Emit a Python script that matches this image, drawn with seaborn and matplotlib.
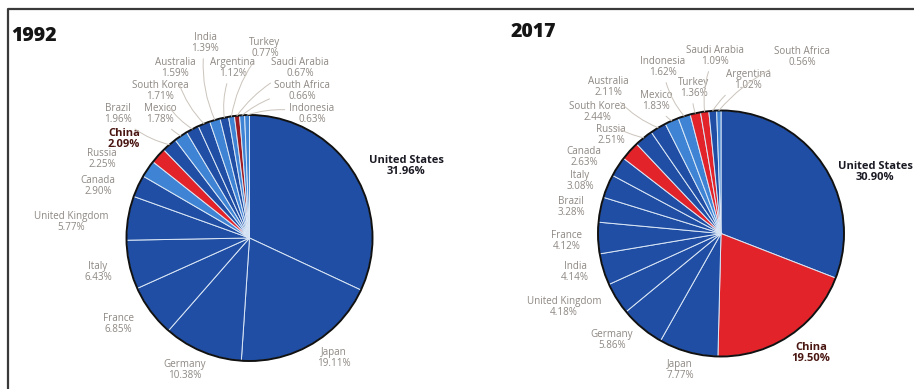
import matplotlib
matplotlib.use("Agg")
import matplotlib.pyplot as plt
import seaborn as sns
import numpy as np
from matplotlib.patches import Circle
from matplotlib.lines import Line2D

# ---------------- data ----------------
countries_1992 = ["United States", "Japan", "Germany", "France", "Italy", "United Kingdom",
                  "Canada", "Russia", "China", "Brazil", "Mexico", "South Korea", "Australia",
                  "India", "Argentina", "Turkey", "Saudi Arabia", "South Africa", "Indonesia"]
share_1992 = [31.96, 19.11, 10.38, 6.85, 6.43, 5.77, 2.90, 2.25, 2.09, 1.96, 1.78, 1.71,
              1.59, 1.39, 1.12, 0.77, 0.67, 0.66, 0.63]

countries_2017 = ["United States", "China", "Japan", "Germany", "United Kingdom", "India",
                  "France", "Brazil", "Italy", "Canada", "Russia", "South Korea", "Australia",
                  "Mexico", "Indonesia", "Turkey", "Saudi Arabia", "Argentina", "South Africa"]
share_2017 = [30.90, 19.50, 7.77, 5.86, 4.18, 4.14, 4.12, 3.28, 3.08, 2.63, 2.51, 2.44,
              2.11, 1.83, 1.62, 1.36, 1.09, 1.02, 0.56]

years = ["1992", "2017"]

# ---------------- style ----------------
sns.set_theme(style="white")
plt.rcParams["font.family"] = ["Open Sans", "DejaVu Sans"]

W, H = 914, 389
DARK = "#1f4ea4"
LIGHT = "#3f84d4"
RED = "#e3232a"
DRED = "#9e1a20"

kind_1992 = {"Russia": LIGHT, "China": RED, "Mexico": LIGHT, "India": LIGHT, "Turkey": LIGHT,
             "Saudi Arabia": DRED, "South Africa": LIGHT, "Indonesia": LIGHT}
kind_2017 = {"China": RED, "Russia": RED, "Mexico": LIGHT, "Indonesia": LIGHT,
             "Turkey": RED, "Saudi Arabia": RED, "South Africa": LIGHT}

# label centre positions in pixels (x, y from top)
pos_1992 = {"United States": (406, 166), "Japan": (334, 358), "Germany": (185, 370),
            "France": (118, 324), "Italy": (98, 272), "United Kingdom": (71, 222),
            "Canada": (98, 186), "Russia": (102, 159), "China": (124, 139),
            "Brazil": (118, 114), "Mexico": (160, 114), "South Korea": (160, 91),
            "Australia": (175, 68), "India": (205, 43), "Argentina": (233, 68),
            "Turkey": (265, 48), "Saudi Arabia": (300, 68), "South Africa": (302, 91),
            "Indonesia": (312, 114)}
pos_2017 = {"United States": (875, 172), "China": (811, 353), "Japan": (680, 370),
            "Germany": (612, 340), "United Kingdom": (564, 307), "India": (575, 272),
            "France": (567, 241), "Brazil": (571, 207), "Italy": (580, 181),
            "Canada": (584, 157), "Russia": (611, 135), "South Korea": (597, 112),
            "Australia": (608, 87), "Mexico": (656, 101), "Indonesia": (663, 67),
            "Turkey": (694, 88), "Saudi Arabia": (715, 56), "Argentina": (748, 80),
            "South Africa": (802, 57)}
lead_1992 = ["Brazil", "Mexico", "South Korea", "Australia", "India", "Argentina",
             "Turkey", "Saudi Arabia", "South Africa", "Indonesia"]
lead_2017 = ["South Korea", "Australia", "Mexico", "Indonesia", "Turkey", "Saudi Arabia",
             "Argentina", "South Africa"]

centers = {"1992": (249.5, 238), "2017": (721, 233.5)}
R = 123
title_pos = {"1992": (11, 36), "2017": (511, 32)}

fig = plt.figure(figsize=(W / 100, H / 100), dpi=100)
fig.patch.set_facecolor("white")
ax = fig.add_axes([0, 0, 1, 1])


def draw(year, names, values, kinds, positions, leads, bold_red):
    cx, cy = centers[year]
    cy = H - cy
    colors = [kinds.get(n, DARK) for n in names]
    wedges, _ = ax.pie(values, colors=colors, startangle=90, counterclock=False,
                       center=(cx, cy), radius=R, frame=True,
                       wedgeprops=dict(edgecolor="#dbe7f6", linewidth=0.7))
    ax.add_patch(Circle((cx, cy), R, fill=False, edgecolor="#111111", linewidth=1.4, zorder=5))
    for n, v, w in zip(names, values, wedges):
        px, py = positions[n]
        txt = f"{n}\n{v:.2f}%"
        if n == "United States" or n == bold_red:
            col = "#1a1a24" if n == "United States" else "#4a1612"
            ax.text(px, H - py, txt, ha="center", va="center", fontsize=8.0,
                    fontweight="bold", color=col, linespacing=1.0, zorder=6)
            continue
        if n in leads:
            ang = np.deg2rad((w.theta1 + w.theta2) / 2)
            xy = (cx + R * np.cos(ang), cy + R * np.sin(ang))
            ax.annotate(txt, xy=xy, xytext=(px, H - py), ha="center", va="center",
                        fontsize=7.1, color="#8e8883", linespacing=1.0,
                        arrowprops=dict(arrowstyle="-", color="#cbc4bc", lw=0.7,
                                        shrinkA=1, shrinkB=0,
                                        connectionstyle="arc3,rad=0.15"), zorder=6)
        else:
            ax.text(px, H - py, txt, ha="center", va="center", fontsize=7.1,
                    color="#8e8883", linespacing=1.0, zorder=6)
    tx, ty = title_pos[year]
    ax.text(tx, H - ty, year, ha="left", va="center", fontsize=14,
            fontweight="heavy", color="#151515")


draw("1992", countries_1992, share_1992, kind_1992, pos_1992, lead_1992, "China")
draw("2017", countries_2017, share_2017, kind_2017, pos_2017, lead_2017, "China")

ax.set_xlim(0, W)
ax.set_ylim(0, H)
ax.set_aspect("auto")
ax.axis("off")

# outer frame (top and left edges visible)
fig.add_artist(Line2D([8 / W, 8 / W, 1], [0, 1 - 9 / H, 1 - 9 / H],
                      transform=fig.transFigure, color="#3a3a3a", linewidth=1.6))

fig.savefig("out.png", dpi=100, facecolor="white")
